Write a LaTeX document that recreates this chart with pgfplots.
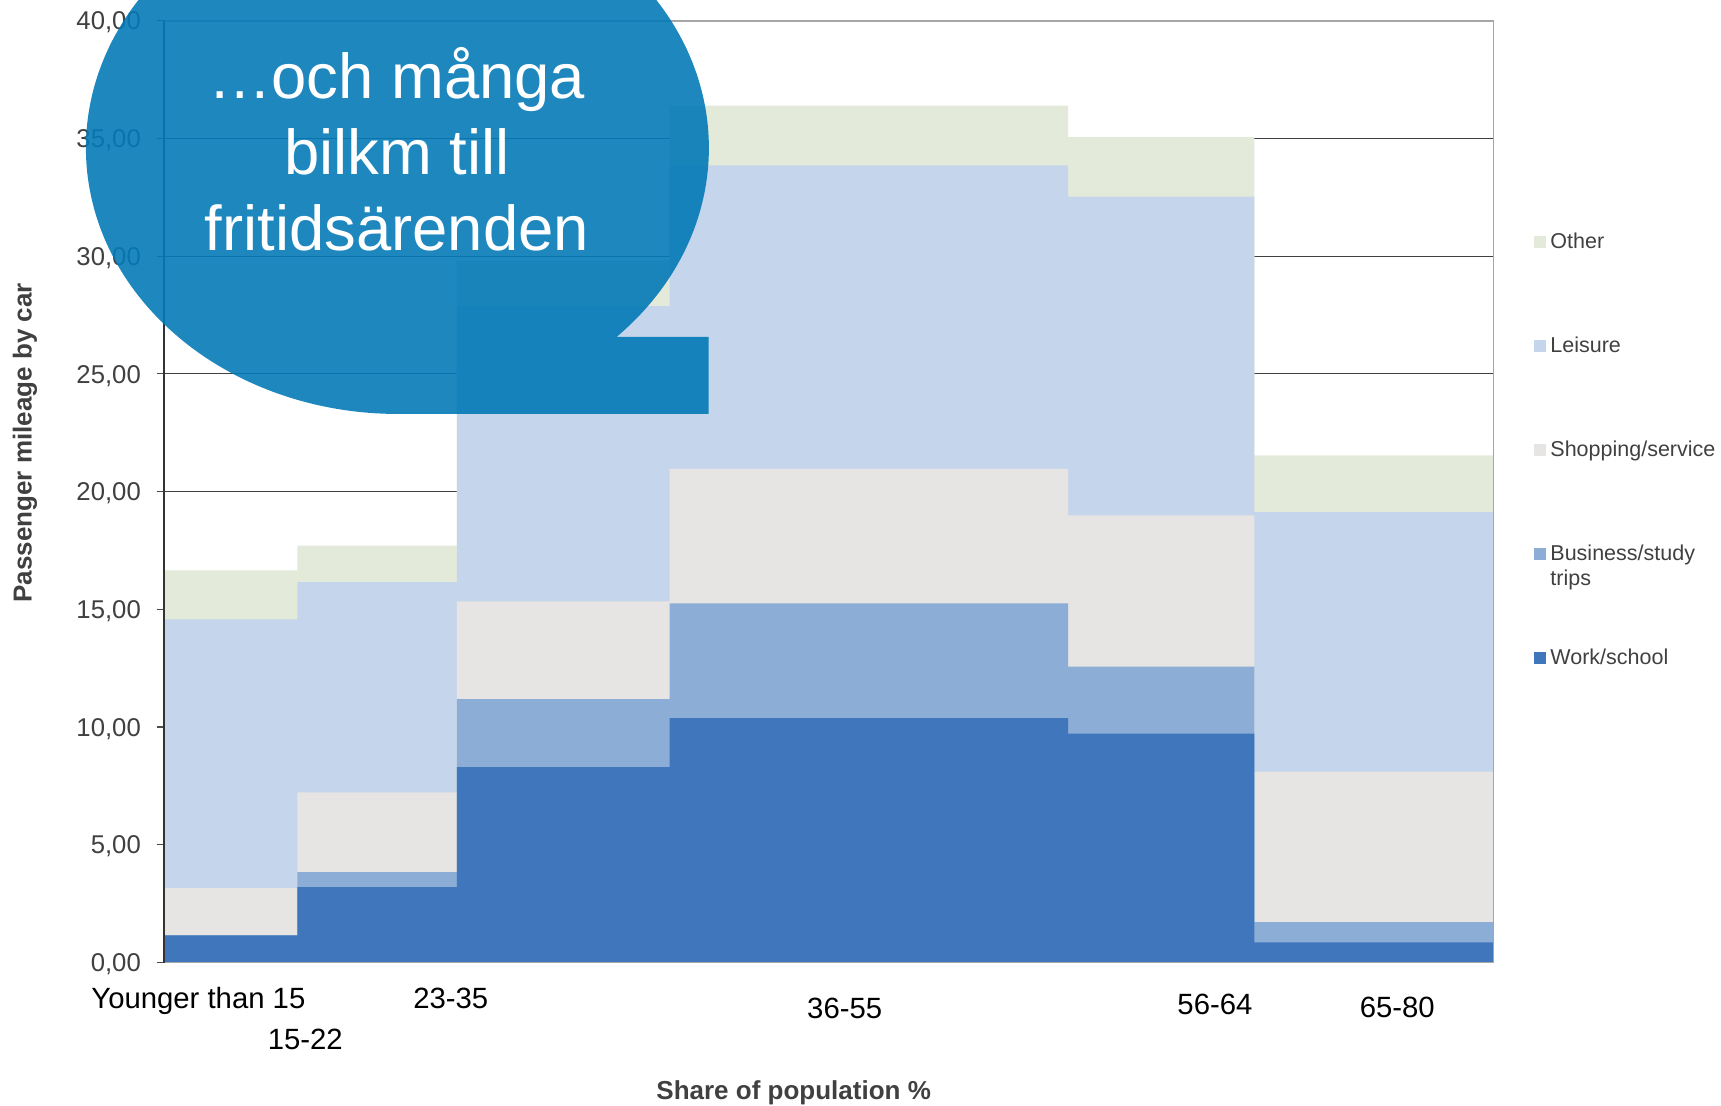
\documentclass[border=0pt]{standalone}
\usepackage{fontspec}
\setmainfont{Liberation Sans}
\usepackage{pgfplots}
\pgfplotsset{compat=1.18}
\usepackage{pgfplotstable}
\definecolor{cWork}{RGB}{64,119,188}
\definecolor{cBus}{RGB}{140,173,214}
\definecolor{cShop}{RGB}{230,229,227}
\definecolor{cLeis}{RGB}{197,213,235}
\definecolor{cOther}{RGB}{227,234,217}
\definecolor{cBubble}{RGB}{4,122,183}
\definecolor{cText}{RGB}{64,64,64}
% cumulative tops of the stacked segments; x = left edge of each bar (share of population, %)
\pgfplotstableread{
x    work   bus    shop   leis   other
0    1.15   1.15   3.16   14.57  16.65
10   3.20   3.84   7.23   16.16  17.71
22   8.30   11.19  15.34  27.88  29.80
38   10.38  15.25  20.96  33.86  36.39
68   9.72   12.57  18.99  32.53  35.05
82   0.85   1.71   8.11   19.13  21.54
100  0.85   1.71   8.11   19.13  21.54
}\mileage
\begin{document}
\begin{tikzpicture}
\path[use as bounding box] (0,0) rectangle (860.5pt,552.5pt);
\begin{axis}[
  at={(82.25pt,71.25pt)}, anchor=south west,
  scale only axis, width=664.5pt, height=470.9pt,
  xmin=0, xmax=100, ymin=0, ymax=40,
  clip=false,
  const plot,
  axis line style={draw=gray!70, line width=0.9pt},
  ytick={0,5,...,40},
  ytick align=outside, ytick pos=left,
  major tick length=4pt,
  ytick style={draw=black!70, line width=0.6pt},
  ymajorgrids, major grid style={draw=black!75, line width=0.55pt},
  xtick={2.55,10.59,21.54,51.18,79.04,92.76},
  xticklabels={Younger than 15,{\raisebox{-20.2pt}{15-22}},23-35,{\raisebox{-4.7pt}{36-55}},{\raisebox{-3pt}{56-64}},{\raisebox{-4.2pt}{65-80}}},
  xtick style={draw=none},
  xticklabel style={anchor=base, inner sep=0pt, yshift=-23.1pt, font=\fontsize{14.65}{17}\selectfont, text=black},
  yticklabel style={anchor=base east, inner sep=0pt, xshift=-7.65pt, yshift=-4.6pt,
    font=\fontsize{12.85}{15}\selectfont, text=cText,
    /pgf/number format/fixed, /pgf/number format/fixed zerofill,
    /pgf/number format/precision=2, /pgf/number format/use comma,
    /pgf/number format/assume math mode=true},
  ylabel={Passenger mileage by car},
  ylabel style={at={(axis description cs:-0.105,0.5517)}, anchor=center,
    font=\bfseries\fontsize{13}{15}\selectfont, text=cText},
  xlabel={Share of population \%},
  xlabel style={at={(axis description cs:0.4734,-0.1458)}, anchor=base,
    font=\bfseries\fontsize{13}{15}\selectfont, text=cText},
  legend image code/.code={\fill[#1] (0pt,-2.925pt) rectangle (5.85pt,2.925pt);},
  legend style={at={(axis description cs:1.0305,0.7751)}, anchor=north west,
    draw=none, fill=none, inner sep=0pt, row sep=42.7pt, column sep=2.15pt,
    nodes={inner sep=0pt, font=\fontsize{10.75}{12.9}\selectfont, text=cText},
    cells={anchor=west}},
]
\addplot[fill=cOther, draw=none] table[x=x,y=other]{\mileage} \closedcycle;
\addlegendentry{Other}
\addplot[fill=cLeis, draw=none] table[x=x,y=leis]{\mileage} \closedcycle;
\addlegendentry{Leisure}
\addplot[fill=cShop, draw=none] table[x=x,y=shop]{\mileage} \closedcycle;
\addlegendentry{Shopping/service}
\addplot[fill=cBus, draw=none] table[x=x,y=bus]{\mileage} \closedcycle;
\addlegendentry{\makebox[0pt][l]{\raisebox{-12.5pt}[0pt][0pt]{trips}}Business/study}
\addplot[fill=cWork, draw=none] table[x=x,y=work]{\mileage} \closedcycle;
\addlegendentry{Work/school}
\draw[gray!70, line width=0.9pt] (rel axis cs:0,0) rectangle (rel axis cs:1,1);
\draw[black!80, line width=1pt] (rel axis cs:0,0) -- (rel axis cs:0,1);
\end{axis}
\begin{scope}
\clip (0,0) rectangle (860.5pt,552.5pt);
\fill[cBubble, fill opacity=0.9] (354.25pt,345.5pt) -- (354.25pt,384pt) -- (308.25pt,384pt)
  arc[start angle=-45.3, end angle=270, x radius=155.75pt, y radius=133pt] -- cycle;
\end{scope}
\node[anchor=base, text=white, inner sep=0pt, font=\fontsize{31.7}{38}\selectfont] at (198.4pt,503.35pt) {…och många};
\node[anchor=base, text=white, inner sep=0pt, font=\fontsize{31.7}{38}\selectfont] at (198.4pt,465pt) {bilkm till};
\node[anchor=base, text=white, inner sep=0pt, font=\fontsize{31.7}{38}\selectfont] at (198.4pt,427.15pt) {fritidsärenden};
\end{tikzpicture}
\end{document}
